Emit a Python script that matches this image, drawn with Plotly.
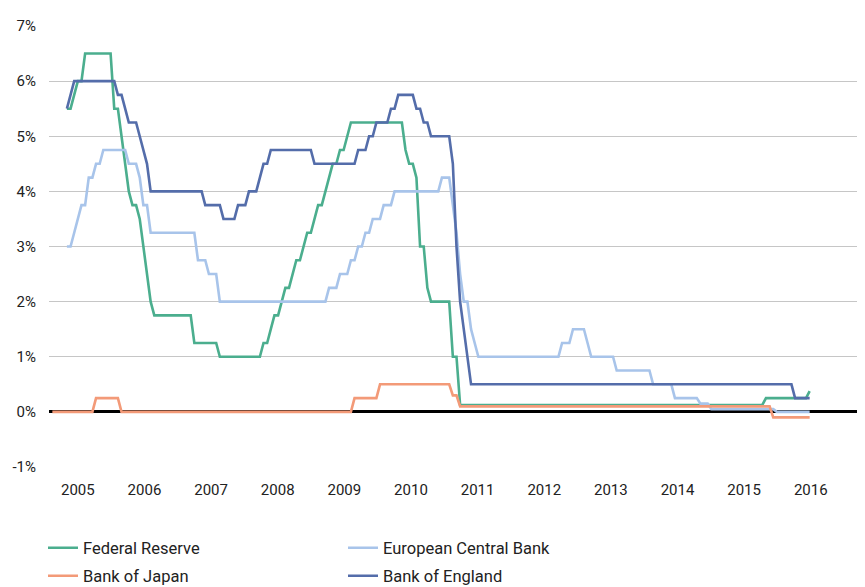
import plotly.graph_objects as go

# Monthly month-end policy rates (%), Dec 1999 .. Dec 2016 (Bank of Japan from Aug 1999)
FED = (
    [5.5] +
    [5.5, 5.75, 6.0, 6.0, 6.5, 6.5, 6.5, 6.5, 6.5, 6.5, 6.5, 6.5] +          # 2000
    [5.5, 5.5, 5.0, 4.5, 4.0, 3.75, 3.75, 3.5, 3.0, 2.5, 2.0, 1.75] +       # 2001
    [1.75, 1.75, 1.75, 1.75, 1.75, 1.75, 1.75, 1.75, 1.75, 1.75, 1.25, 1.25] +  # 2002
    [1.25, 1.25, 1.25, 1.25, 1.25, 1.0, 1.0, 1.0, 1.0, 1.0, 1.0, 1.0] +     # 2003
    [1.0, 1.0, 1.0, 1.0, 1.0, 1.25, 1.25, 1.5, 1.75, 1.75, 2.0, 2.25] +     # 2004
    [2.25, 2.5, 2.75, 2.75, 3.0, 3.25, 3.25, 3.5, 3.75, 3.75, 4.0, 4.25] +  # 2005
    [4.5, 4.5, 4.75, 4.75, 5.0, 5.25, 5.25, 5.25, 5.25, 5.25, 5.25, 5.25] + # 2006
    [5.25, 5.25, 5.25, 5.25, 5.25, 5.25, 5.25, 5.25, 4.75, 4.5, 4.5, 4.25] + # 2007
    [3.0, 3.0, 2.25, 2.0, 2.0, 2.0, 2.0, 2.0, 2.0, 1.0, 1.0, 0.125] +      # 2008
    [0.125] * 12 +   # 2009
    [0.125] * 12 +   # 2010
    [0.125] * 12 +   # 2011
    [0.125] * 12 +   # 2012
    [0.125] * 12 +   # 2013
    [0.125] * 12 +   # 2014
    [0.125, 0.125, 0.125, 0.125, 0.125, 0.125, 0.125, 0.125, 0.125, 0.125, 0.125, 0.25] +  # 2015
    [0.25, 0.25, 0.25, 0.25, 0.25, 0.25, 0.25, 0.25, 0.25, 0.25, 0.25, 0.375]             # 2016
)

ECB = (
    [3.0] +
    [3.0, 3.25, 3.5, 3.75, 3.75, 4.25, 4.25, 4.5, 4.5, 4.75, 4.75, 4.75] +   # 2000
    [4.75, 4.75, 4.75, 4.75, 4.5, 4.5, 4.5, 4.25, 3.75, 3.75, 3.25, 3.25] +  # 2001
    [3.25, 3.25, 3.25, 3.25, 3.25, 3.25, 3.25, 3.25, 3.25, 3.25, 3.25, 2.75] +  # 2002
    [2.75, 2.75, 2.5, 2.5, 2.5, 2.0, 2.0, 2.0, 2.0, 2.0, 2.0, 2.0] +       # 2003
    [2.0] * 12 +                                                           # 2004
    [2.0, 2.0, 2.0, 2.0, 2.0, 2.0, 2.0, 2.0, 2.0, 2.0, 2.0, 2.25] +        # 2005
    [2.25, 2.25, 2.5, 2.5, 2.5, 2.75, 2.75, 3.0, 3.0, 3.25, 3.25, 3.5] +   # 2006
    [3.5, 3.5, 3.75, 3.75, 3.75, 4.0, 4.0, 4.0, 4.0, 4.0, 4.0, 4.0] +      # 2007
    [4.0, 4.0, 4.0, 4.0, 4.0, 4.0, 4.25, 4.25, 4.25, 3.75, 3.25, 2.5] +    # 2008
    [2.0, 2.0, 1.5, 1.25, 1.0, 1.0, 1.0, 1.0, 1.0, 1.0, 1.0, 1.0] +        # 2009
    [1.0] * 12 +                                                           # 2010
    [1.0, 1.0, 1.0, 1.25, 1.25, 1.25, 1.5, 1.5, 1.5, 1.5, 1.25, 1.0] +     # 2011
    [1.0, 1.0, 1.0, 1.0, 1.0, 1.0, 0.75, 0.75, 0.75, 0.75, 0.75, 0.75] +   # 2012
    [0.75, 0.75, 0.75, 0.75, 0.5, 0.5, 0.5, 0.5, 0.5, 0.5, 0.25, 0.25] +   # 2013
    [0.25, 0.25, 0.25, 0.25, 0.25, 0.15, 0.15, 0.15, 0.05, 0.05, 0.05, 0.05] +  # 2014
    [0.05] * 12 +                                                          # 2015
    [0.05, 0.05, 0.0, 0.0, 0.0, 0.0, 0.0, 0.0, 0.0, 0.0, 0.0, 0.0]         # 2016
)

BOJ = (
    [0.0, 0.0, 0.0, 0.0, 0.0] +                                            # Aug-Dec 1999
    [0.0, 0.0, 0.0, 0.0, 0.0, 0.0, 0.0, 0.25, 0.25, 0.25, 0.25, 0.25] +    # 2000
    [0.25, 0.25, 0.0, 0.0, 0.0, 0.0, 0.0, 0.0, 0.0, 0.0, 0.0, 0.0] +       # 2001
    [0.0] * 12 +   # 2002
    [0.0] * 12 +   # 2003
    [0.0] * 12 +   # 2004
    [0.0] * 12 +   # 2005
    [0.0, 0.0, 0.0, 0.0, 0.0, 0.0, 0.25, 0.25, 0.25, 0.25, 0.25, 0.25] +   # 2006
    [0.25, 0.5, 0.5, 0.5, 0.5, 0.5, 0.5, 0.5, 0.5, 0.5, 0.5, 0.5] +        # 2007
    [0.5, 0.5, 0.5, 0.5, 0.5, 0.5, 0.5, 0.5, 0.5, 0.3, 0.3, 0.1] +         # 2008
    [0.1] * 12 +   # 2009
    [0.1] * 12 +   # 2010
    [0.1] * 12 +   # 2011
    [0.1] * 12 +   # 2012
    [0.1] * 12 +   # 2013
    [0.1] * 12 +   # 2014
    [0.1] * 12 +   # 2015
    [0.1, -0.1, -0.1, -0.1, -0.1, -0.1, -0.1, -0.1, -0.1, -0.1, -0.1, -0.1]  # 2016
)

BOE = (
    [5.5] +
    [5.75, 6.0, 6.0, 6.0, 6.0, 6.0, 6.0, 6.0, 6.0, 6.0, 6.0, 6.0] +         # 2000
    [6.0, 5.75, 5.75, 5.5, 5.25, 5.25, 5.25, 5.0, 4.75, 4.5, 4.0, 4.0] +    # 2001
    [4.0] * 12 +                                                           # 2002
    [4.0, 3.75, 3.75, 3.75, 3.75, 3.75, 3.5, 3.5, 3.5, 3.5, 3.75, 3.75] +   # 2003
    [3.75, 4.0, 4.0, 4.0, 4.25, 4.5, 4.5, 4.75, 4.75, 4.75, 4.75, 4.75] +   # 2004
    [4.75, 4.75, 4.75, 4.75, 4.75, 4.75, 4.75, 4.5, 4.5, 4.5, 4.5, 4.5] +   # 2005
    [4.5, 4.5, 4.5, 4.5, 4.5, 4.5, 4.5, 4.75, 4.75, 4.75, 5.0, 5.0] +       # 2006
    [5.25, 5.25, 5.25, 5.25, 5.5, 5.5, 5.75, 5.75, 5.75, 5.75, 5.75, 5.5] + # 2007
    [5.5, 5.25, 5.25, 5.0, 5.0, 5.0, 5.0, 5.0, 5.0, 4.5, 3.0, 2.0] +        # 2008
    [1.5, 1.0, 0.5, 0.5, 0.5, 0.5, 0.5, 0.5, 0.5, 0.5, 0.5, 0.5] +          # 2009
    [0.5] * 12 +   # 2010
    [0.5] * 12 +   # 2011
    [0.5] * 12 +   # 2012
    [0.5] * 12 +   # 2013
    [0.5] * 12 +   # 2014
    [0.5] * 12 +   # 2015
    [0.5, 0.5, 0.5, 0.5, 0.5, 0.5, 0.5, 0.25, 0.25, 0.25, 0.25, 0.25]       # 2016
)

SERIES_NAMES = ["Federal Reserve", "European Central Bank", "Bank of Japan", "Bank of England"]
COLORS = ["#4BAE8E", "#A8C4EA", "#F39A78", "#546DAA"]

X_TICK_LABELS = ["2005", "2006", "2007", "2008", "2009", "2010",
                 "2011", "2012", "2013", "2014", "2015", "2016"]
X_TICK_FIRST = 3.0     # month index of first label
X_TICK_STEP = 18.3     # months between labels
Y_TICKS = [-1, 0, 1, 2, 3, 4, 5, 6, 7]
Y_TICK_LABELS = ["-1%", "0%", "1%", "2%", "3%", "4%", "5%", "6%", "7%"]

x_main = list(range(0, len(FED)))          # 0 = Dec 1999
x_boj = list(range(-4, -4 + len(BOJ)))     # -4 = Aug 1999

# The page adds an 8px body margin, so the figure is 8px smaller and shifted
W, H = 857, 579
FONT = "Roboto, Arial, sans-serif"
TXT = "#222222"

fig = go.Figure()
data = [(FED, x_main), (ECB, x_main), (BOJ, x_boj), (BOE, x_main)]
legends = ["legend", "legend", "legend2", "legend2"]
for (vals, xs), name, col, lg in zip(data, SERIES_NAMES, COLORS, legends):
    fig.add_trace(go.Scatter(x=xs, y=vals, mode="lines", name=name,
                             line=dict(color=col, width=2.6),
                             legend=lg))

tickvals = [X_TICK_FIRST + k * X_TICK_STEP for k in range(len(X_TICK_LABELS))]

leg_common = dict(orientation="h", xref="container", yref="container",
                  xanchor="left", yanchor="middle", entrywidth=255,
                  font=dict(size=16.5, color=TXT, family=FONT),
                  bgcolor="rgba(0,0,0,0)")

fig.update_layout(
    width=W, height=H,
    margin=dict(l=41, r=0, t=18, b=120),
    paper_bgcolor="white", plot_bgcolor="white",
    font=dict(family=FONT, size=15, color=TXT),
    showlegend=True,
    legend=dict(x=(43 - 8) / W, y=1 - (548 - 8) / H, **leg_common),
    legend2=dict(x=(43 - 8) / W, y=1 - (576 - 8) / H, **leg_common),
    xaxis=dict(range=[-4.92, 219.2], showgrid=False, zeroline=False,
               tickmode="array", tickvals=tickvals, ticktext=X_TICK_LABELS,
               ticks="", showline=False, ticklabelstandoff=12,
               tickfont=dict(size=15, color=TXT)),
    yaxis=dict(range=[-1, 7], tickmode="array", tickvals=Y_TICKS,
               ticktext=Y_TICK_LABELS, showgrid=True, gridcolor="#C6C6C6",
               gridwidth=1.2, zeroline=True, zerolinecolor="#000000",
               zerolinewidth=2.6, ticks="", showline=False,
               ticklabelstandoff=12, tickfont=dict(size=15, color=TXT)),
)

fig.write_html("out.html")
